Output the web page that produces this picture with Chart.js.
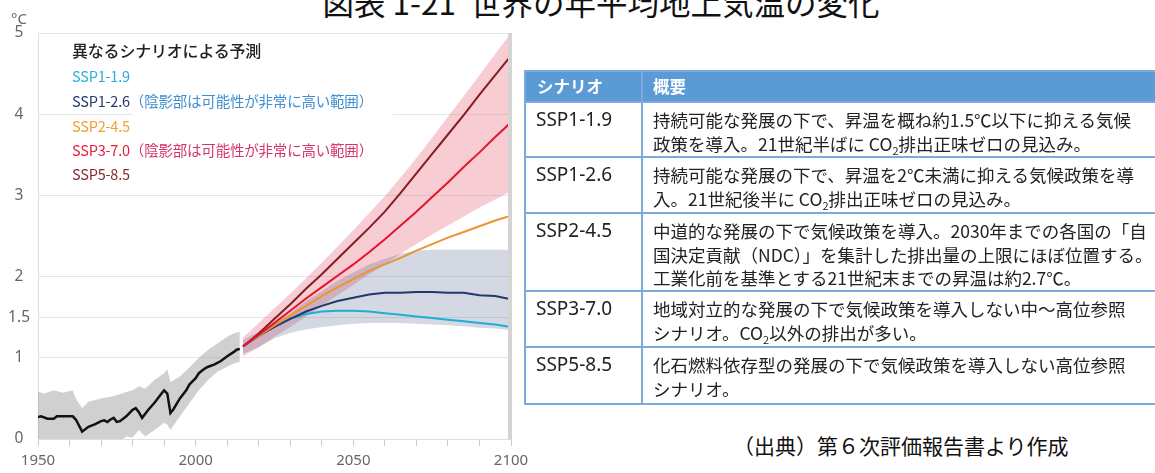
<!DOCTYPE html>
<html lang="ja">
<head>
<meta charset="utf-8">
<script src="https://cdn.jsdelivr.net/npm/chart.js@4"></script>
<style>
  body { margin: 0; width: 1155px; height: 473px; overflow: hidden; background: #fff; position: relative;
         font-family: "Noto Sans CJK JP", "Noto Sans", sans-serif; color: #222; }
  #title { position: absolute; left: 0; width: 1202px; top: -19px; text-align: center; font-size: 31.5px;
           line-height: 40px; white-space: nowrap; color: #111; }
  #chartBox { position: absolute; left: 0; top: 0; width: 560px; height: 473px; }
  #unit { position: absolute; left: 11px; top: 8px; font: 15px "Noto Sans", sans-serif; color: #666; line-height: 20px; }
  #mask { position: absolute; left: 133px; top: 88px; width: 260px; height: 74px; background: #fff; }
  .lg { position: absolute; left: 72px; line-height: 20px; font-size: 14.5px; white-space: nowrap; letter-spacing: -0.2px; }
  .lg b { font-weight: 500; }
  #tbl { position: absolute; left: 524px; top: 70px; border-collapse: collapse; table-layout: fixed; width: 680px; }
  #tbl th, #tbl td { border: 2px solid #7ea9dc; vertical-align: top; white-space: nowrap; padding: 0; }
  #tbl th { background: #5b9bd5; color: #fff; text-align: left; font-size: 16.5px; font-weight: 700;
            height: 29px; line-height: 29px; padding-left: 11px; }
  #tbl td { font-size: 17.5px; line-height: 23.5px; padding: 5px 0 0 10px; color: #222; }
  #tbl td.s { font-family: "Noto Sans", sans-serif; font-size: 19px; padding-left: 10px; }
  #tbl sub { font-size: 11px; line-height: 0; vertical-align: -4px; }
  #src { position: absolute; left: 733px; top: 432px; font-size: 21px; line-height: 26px; white-space: nowrap; color: #111; }
</style>
</head>
<body>
<div id="title">図表 1-21&nbsp;&nbsp;世界の年平均地上気温の変化</div>

<div id="chartBox"><canvas id="tempChart"></canvas></div>
<div id="unit">°C</div>
<div id="mask"></div>
<div class="lg" style="top:40px;font-size:16px;color:#222;"><b>異なるシナリオによる予測</b></div>
<div class="lg" style="top:66px;color:#2aaed8;">SSP1-1.9</div>
<div class="lg" style="top:91px;"><span style="color:#24386a;">SSP1-2.6</span><span style="color:#3d8fd1;">（陰影部は可能性が非常に高い範囲）</span></div>
<div class="lg" style="top:116px;color:#f0a030;">SSP2-4.5</div>
<div class="lg" style="top:140px;"><span style="color:#e5203a;">SSP3-7.0</span><span style="color:#d6336c;">（陰影部は可能性が非常に高い範囲）</span></div>
<div class="lg" style="top:164px;color:#8a2a2e;">SSP5-8.5</div>

<table id="tbl">
  <colgroup><col style="width:117px"><col style="width:563px"></colgroup>
  <tr><th>シナリオ</th><th style="padding-left:10px;">概要</th></tr>
  <tr style="height:55px"><td class="s">SSP1-1.9</td><td>持続可能な発展の下で、昇温を概ね約1.5℃以下に抑える気候<br>政策を導入。21世紀半ばに CO<sub>2</sub>排出正味ゼロの見込み。</td></tr>
  <tr style="height:56px"><td class="s">SSP1-2.6</td><td>持続可能な発展の下で、昇温を2℃未満に抑える気候政策を導<br>入。21世紀後半に CO<sub>2</sub>排出正味ゼロの見込み。</td></tr>
  <tr style="height:78px"><td class="s">SSP2-4.5</td><td>中道的な発展の下で気候政策を導入。2030年までの各国の「自<br>国決定貢献（NDC）」を集計した排出量の上限にほぼ位置する。<br>工業化前を基準とする21世紀末までの昇温は約2.7℃。</td></tr>
  <tr style="height:56px"><td class="s">SSP3-7.0</td><td>地域対立的な発展の下で気候政策を導入しない中～高位参照<br>シナリオ。CO<sub>2</sub>以外の排出が多い。</td></tr>
  <tr style="height:57px"><td class="s">SSP5-8.5</td><td>化石燃料依存型の発展の下で気候政策を導入しない高位参照<br>シナリオ。</td></tr>
</table>

<div id="src">（出典）第６次評価報告書より作成</div>

<script>
// observed (1950-2014)
const histYears = [1950,1951,1953,1955,1956,1961,1962,1964,1966,1968,1970,1971,1972,1973,1974,1975,1976,1978,1980,1981,1982,1983,1985,1987,1989,1990,1991,1992,1993,1995,1997,1998,2000,2001,2003,2004,2006,2008,2010,2012,2013,2014]
const histMean = [0.27,0.28,0.25,0.25,0.28,0.28,0.24,0.09,0.15,0.18,0.22,0.23,0.21,0.24,0.26,0.21,0.22,0.28,0.36,0.38,0.33,0.26,0.36,0.45,0.55,0.6,0.56,0.32,0.37,0.5,0.6,0.67,0.75,0.81,0.87,0.89,0.92,0.96,1.02,1.07,1.1,1.11]
const bandYears = [1950,1952,1955,1958,1961,1962,1964,1966,1970,1973,1976,1978,1980,1982,1984,1987,1990,1991,1992,1995,1998,2001,2004,2007,2010,2012,2014]
const histHigh = [0.58,0.56,0.6,0.57,0.6,0.5,0.38,0.46,0.5,0.52,0.55,0.58,0.6,0.65,0.62,0.73,0.81,0.86,0.7,0.77,0.88,1.0,1.1,1.18,1.26,1.3,1.32]
const histLow = [-0.05,-0.05,-0.05,-0.05,-0.05,-0.1,-0.15,-0.1,-0.08,-0.05,-0.03,0.03,0.02,0.11,0.03,0.11,0.2,0.18,0.11,0.28,0.44,0.6,0.73,0.83,0.89,0.93,0.95]

// scenarios (2015-2100)
const projYears = [2015,2020,2025,2030,2035,2040,2045,2050,2055,2060,2065,2070,2075,2080,2085,2090,2095,2100]
const ssp119 = [1.14,1.27,1.39,1.48,1.54,1.57,1.58,1.58,1.57,1.55,1.53,1.51,1.49,1.47,1.45,1.43,1.41,1.38]
const ssp126 = [1.14,1.27,1.38,1.48,1.57,1.64,1.7,1.74,1.78,1.8,1.8,1.81,1.81,1.8,1.8,1.77,1.76,1.72]
const ssp245 = [1.14,1.27,1.4,1.52,1.64,1.76,1.87,1.97,2.07,2.15,2.23,2.32,2.4,2.48,2.55,2.62,2.69,2.75]
const ssp370 = [1.14,1.28,1.43,1.58,1.73,1.87,2.01,2.15,2.3,2.46,2.63,2.8,2.98,3.16,3.35,3.53,3.72,3.9]
const ssp585 = [1.14,1.3,1.48,1.66,1.85,2.03,2.22,2.41,2.6,2.8,3.03,3.27,3.51,3.75,3.99,4.24,4.48,4.72]
const ssp126Low = [1.05,1.13,1.24,1.31,1.35,1.38,1.4,1.42,1.43,1.43,1.43,1.42,1.41,1.4,1.39,1.37,1.36,1.34]
const ssp126High = [1.22,1.32,1.42,1.55,1.7,1.82,1.95,2.05,2.15,2.22,2.28,2.32,2.33,2.33,2.33,2.33,2.33,2.33]
const ssp370Low = [1.02,1.13,1.26,1.38,1.51,1.64,1.77,1.9,2.03,2.15,2.28,2.4,2.52,2.63,2.74,2.85,2.95,3.05]
const ssp370High = [1.25,1.43,1.61,1.79,1.98,2.17,2.37,2.57,2.78,2.99,3.22,3.46,3.71,3.97,4.22,4.48,4.74,5.0]

const yTicks = [0, 1, 1.5, 2, 3, 4, 5]

function pts(xs, ys) {
  return xs.map((x, i) => ({ x: x, y: ys[i] }))
}
function band(xs, ys) {
  return { data: pts(xs, ys), borderWidth: 0, pointRadius: 0, fill: false, order: 10 }
}
function line(xs, ys, color, order) {
  return { data: pts(xs, ys), borderColor: color, borderWidth: 2, pointRadius: 0, fill: false, order: order }
}

// right edge bar
const frameBar = {
  id: 'frameBar',
  afterDraw(chart) {
    const a = chart.chartArea, ctx = chart.ctx
    ctx.save()
    ctx.fillStyle = '#d4d4d4'
    ctx.fillRect(a.right - 3, a.top, 4, a.bottom - a.top)
    ctx.restore()
  }
}

Chart.defaults.font.family = '"Noto Sans", sans-serif'
Chart.defaults.color = '#666'

let histLine = line(histYears, histMean, '#111111', 1)
histLine.borderWidth = 2.5

new Chart(document.getElementById('tempChart'), {
  type: 'line',
  data: {
    datasets: [
      band(bandYears, histLow),
      Object.assign(band(bandYears, histHigh), { fill: '-1', backgroundColor: 'rgba(150,150,150,0.45)' }),
      band(projYears, ssp126Low),
      Object.assign(band(projYears, ssp126High), { fill: '-1', backgroundColor: 'rgba(80,100,140,0.25)' }),
      band(projYears, ssp370Low),
      Object.assign(band(projYears, ssp370High), { fill: '-1', backgroundColor: 'rgba(230,100,120,0.33)' }),
      histLine,
      line(projYears, ssp119, '#1eaed6', 6),
      line(projYears, ssp126, '#22386c', 5),
      line(projYears, ssp245, '#ec9530', 4),
      line(projYears, ssp585, '#861c24', 3),
      line(projYears, ssp370, '#e2152e', 2)
    ]
  },
  options: {
    responsive: true,
    maintainAspectRatio: false,
    animation: false,
    layout: { padding: { left: 0, right: 49, top: 33, bottom: 0 } },
    plugins: { legend: { display: false }, tooltip: { enabled: false } },
    scales: {
      x: {
        type: 'linear', min: 1950, max: 2100,
        afterFit: s => { s.height = 34 },
        grid: { drawOnChartArea: false, drawTicks: true, tickLength: 7, color: '#cccccc' },
        border: { color: '#dddddd' },
        ticks: { stepSize: 10, padding: 6, maxRotation: 0, autoSkip: false,
                 font: { size: 15 }, color: '#666',
                 callback: v => (v % 50 === 0 ? String(v) : '') }
      },
      y: {
        min: 0, max: 5,
        afterFit: s => { s.width = 38 },
        afterBuildTicks: s => { s.ticks = yTicks.map(v => ({ value: v })) },
        grid: { color: '#e6e6e6', drawTicks: false },
        border: { color: '#dddddd' },
        ticks: { padding: 8, crossAlign: 'center', font: { size: 15.5 }, color: '#666',
                 callback: v => String(v) }
      }
    }
  },
  plugins: [frameBar]
})
</script>
</body>
</html>
